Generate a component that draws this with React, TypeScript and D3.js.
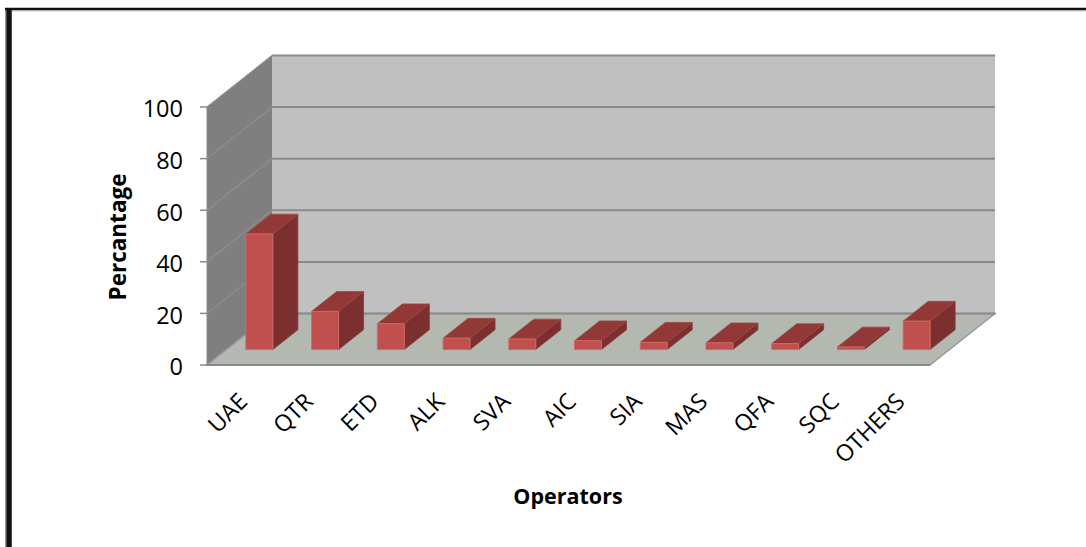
import React from "react";
import * as d3 from "d3";

const categories = ["UAE", "QTR", "ETD", "ALK", "SVA", "AIC", "SIA", "MAS", "QFA", "SQC", "OTHERS"];
const values = [44.8, 14.8, 10, 4.4, 4.1, 3.4, 2.8, 2.6, 2.3, 1.0, 11];
const yTicks = [0, 20, 40, 60, 80, 100];
const yTitle = "Percantage";
const xTitle = "Operators";

const W = 1086;
const H = 547;
const FONT = "'Open Sans', 'DejaVu Sans', sans-serif";

export default function App() {
  const x = d3.scaleBand<string>().domain(categories).range([207, 930]).padding(0);
  const y = d3.scaleLinear().domain([0, 100]).range([365, 107]);
  const DX = 65;
  const DY = -51.5;
  const P = (px: number, v: number, d: number): [number, number] => [px + d * DX, y(v) + d * DY];
  const pts = (arr: [number, number][]) => arr.map((p) => p.join(",")).join(" ");

  const x0 = x.range()[0];
  const x1 = x.range()[1];
  const d0 = 0.3;
  const d1 = 0.685;
  const bw = x.bandwidth() * 0.41;

  return (
    <svg width={W} height={H} style={{ position: "absolute", left: 0, top: 0, background: "#fff" }}>
      {/* frame */}
      <line x1={5.5} y1={8} x2={5.5} y2={H} stroke="#999" strokeWidth={1} />
      <line x1={9} y1={8} x2={9} y2={H} stroke="#111" strokeWidth={5.5} />
      <line x1={5} y1={9} x2={W} y2={9} stroke="#111" strokeWidth={2.5} />
      <line x1={12} y1={10.8} x2={W} y2={10.8} stroke="#aaa" strokeWidth={1} />

      {/* back wall */}
      <polygon points={pts([P(x0, 0, 1), P(x0, 100, 1), P(x1, 100, 1), P(x1, 0, 1)])} fill="#c0c0c0" />
      {/* left wall */}
      <polygon points={pts([P(x0, 0, 0), P(x0, 100, 0), P(x0, 100, 1), P(x0, 0, 1)])} fill="#7f7f7f" />
      {/* left wall gridlines */}
      {yTicks.slice(1).map((t) => (
        <line key={"lg" + t} x1={P(x0, t, 0)[0]} y1={P(x0, t, 0)[1]} x2={P(x0, t, 1)[0]} y2={P(x0, t, 1)[1]} stroke="#8f8f8f" strokeWidth={1.2} />
      ))}
      {/* back wall gridlines */}
      {yTicks.slice(1).map((t) => (
        <line key={"bg" + t} x1={P(x0, t, 1)[0]} y1={P(x0, t, 1)[1]} x2={P(x1, t, 1)[0]} y2={P(x1, t, 1)[1]} stroke="#8a8a8a" strokeWidth={2} />
      ))}
      {/* floor */}
      <polygon points={pts([P(x0, 0, 0), P(x0, 0, 1), P(x1, 0, 1), P(x1, 0, 0)])} fill="#b3b8b1" stroke="#9a9a9a" strokeWidth={1.5} />
      <line x1={P(x0, 0, 1)[0]} y1={P(x0, 0, 1)[1]} x2={P(x1, 0, 1)[0]} y2={P(x1, 0, 1)[1]} stroke="#8a8a8a" strokeWidth={2} />
      <line x1={x0} y1={y(0)} x2={x1} y2={y(0)} stroke="#8a8a8a" strokeWidth={2} />
      {/* y axis line + ticks */}
      <line x1={x0} y1={y(0)} x2={x0} y2={y(100)} stroke="#8a8a8a" strokeWidth={1} />
      {yTicks.map((t) => (
        <g key={"t" + t}>
          <line x1={x0 - 7} y1={y(t)} x2={x0} y2={y(t)} stroke="#8a8a8a" strokeWidth={1.5} />
          <text x={183} y={y(t) + 2} dy="0.36em" textAnchor="end" fontFamily={FONT} fontSize={23.5} fill="#000">
            {t}
          </text>
        </g>
      ))}

      {/* bars */}
      {categories.map((c, i) => {
        const v = values[i];
        const cx = (x(c) as number) + x.bandwidth() / 2;
        const l = cx - bw / 2;
        const r = cx + bw / 2;
        const front = [P(l, 0, d0), P(l, v, d0), P(r, v, d0), P(r, 0, d0)] as [number, number][];
        const top = [P(l, v, d0), P(l, v, d1), P(r, v, d1), P(r, v, d0)] as [number, number][];
        const side = [P(r, 0, d0), P(r, v, d0), P(r, v, d1), P(r, 0, d1)] as [number, number][];
        return (
          <g key={c}>
            <polygon points={pts(side)} fill="#7b2f2e" stroke="#8a3a38" strokeWidth={0.8} />
            <polygon points={pts(top)} fill="#923836" stroke="#9c4a48" strokeWidth={0.8} />
            <polygon points={pts(front)} fill="#c0504d" stroke="#d06a66" strokeWidth={1} />
          </g>
        );
      })}

      {/* x labels */}
      {categories.map((c) => {
        const cx = (x(c) as number) + x.bandwidth() / 2;
        return (
          <text
            key={"xl" + c}
            transform={`translate(${cx + 9},${403}) rotate(-45)`}
            textAnchor="end"
            fontFamily={FONT}
            fontSize={23}
            fill="#000"
          >
            {c}
          </text>
        );
      })}

      {/* titles */}
      <text transform={`translate(${126},${237}) rotate(-90)`} textAnchor="middle" fontFamily={FONT} fontSize={22.5} fontWeight="bold" fill="#000">
        {yTitle}
      </text>
      <text x={568} y={504} textAnchor="middle" fontFamily={FONT} fontSize={21.5} fontWeight="bold" fill="#000">
        {xTitle}
      </text>
    </svg>
  );
}
